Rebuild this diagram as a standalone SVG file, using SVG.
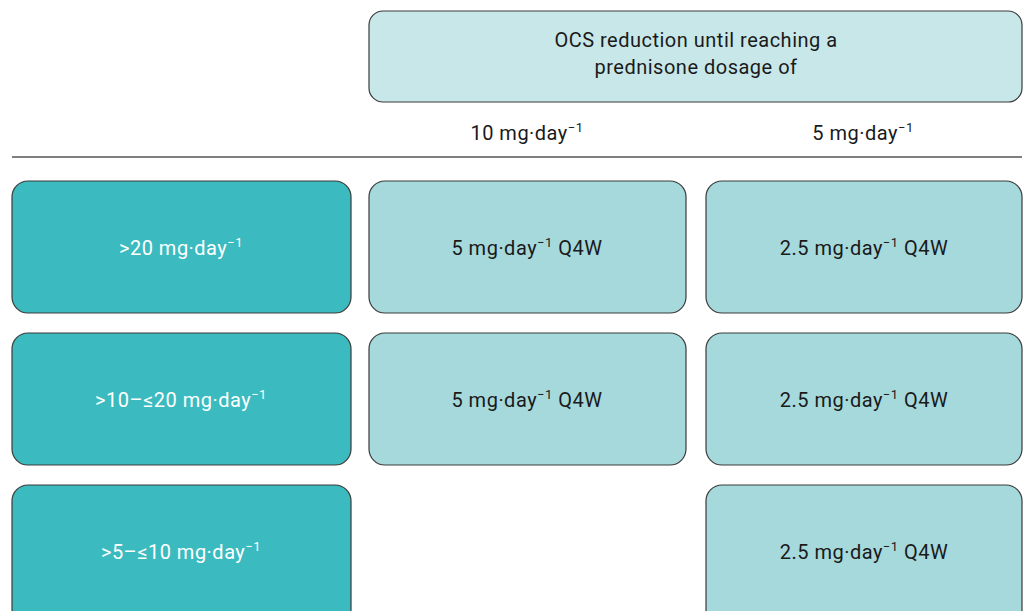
<svg xmlns="http://www.w3.org/2000/svg" width="1027" height="611" viewBox="0 0 1027 611">
<style>
.box{stroke:#3a3a3a;stroke-width:1.2}
.dark{fill:#3bbbc0}
.light{fill:#a6d9dc}
.head{fill:#c8e7e9}
text{font-family:Roboto,"Liberation Sans",sans-serif;font-size:20px;letter-spacing:0.5px;text-anchor:middle;fill:#1a1a1a}
.w{fill:#ffffff}
.sup{font-size:13px}
</style>
<rect width="1027" height="611" fill="#ffffff"/>
<g id="header">
<rect class="box head" x="369" y="11" width="653" height="91" rx="14"/>
<text x="696" y="47">OCS reduction until reaching a</text>
<text x="696" y="74">prednisone dosage of</text>
</g>
<g id="col-10">
<text x="527" y="140">10 mg·day<tspan class="sup" dy="-8">−1</tspan></text>
</g>
<g id="col-5">
<text x="863" y="140">5 mg·day<tspan class="sup" dy="-8">−1</tspan></text>
</g>
<g id="connectors">
<line x1="12" y1="157" x2="1022" y2="157" stroke="#555" stroke-width="1.5"/>
</g>
<g id="row1-label">
<rect class="box dark" x="12" y="181" width="339" height="132" rx="16"/>
<text class="w" x="181" y="255">&gt;20 mg·day<tspan class="sup" dy="-8">−1</tspan></text>
</g>
<g id="row1-c1">
<rect class="box light" x="369" y="181" width="317" height="132" rx="16"/>
<text x="527" y="255">5 mg·day<tspan class="sup" dy="-8">−1</tspan><tspan dy="8"> Q4W</tspan></text>
</g>
<g id="row1-c2">
<rect class="box light" x="706" y="181" width="316" height="132" rx="16"/>
<text x="864" y="255">2.5 mg·day<tspan class="sup" dy="-8">−1</tspan><tspan dy="8"> Q4W</tspan></text>
</g>
<g id="row2-label">
<rect class="box dark" x="12" y="333" width="339" height="132" rx="16"/>
<text class="w" x="181" y="407">&gt;10–≤20 mg·day<tspan class="sup" dy="-8">−1</tspan></text>
</g>
<g id="row2-c1">
<rect class="box light" x="369" y="333" width="317" height="132" rx="16"/>
<text x="527" y="407">5 mg·day<tspan class="sup" dy="-8">−1</tspan><tspan dy="8"> Q4W</tspan></text>
</g>
<g id="row2-c2">
<rect class="box light" x="706" y="333" width="316" height="132" rx="16"/>
<text x="864" y="407">2.5 mg·day<tspan class="sup" dy="-8">−1</tspan><tspan dy="8"> Q4W</tspan></text>
</g>
<g id="row3-label">
<rect class="box dark" x="12" y="485" width="339" height="140" rx="16"/>
<text class="w" x="181" y="559">&gt;5–≤10 mg·day<tspan class="sup" dy="-8">−1</tspan></text>
</g>
<g id="row3-c2">
<rect class="box light" x="706" y="485" width="316" height="140" rx="16"/>
<text x="864" y="559">2.5 mg·day<tspan class="sup" dy="-8">−1</tspan><tspan dy="8"> Q4W</tspan></text>
</g>
</svg>
